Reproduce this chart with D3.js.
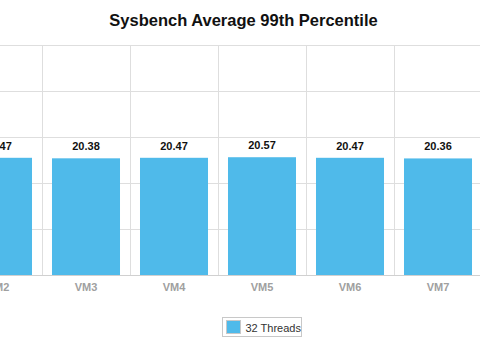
<!DOCTYPE html>
<html>
<head>
<meta charset="utf-8">
<script src="https://cdn.jsdelivr.net/npm/d3@7"></script>
<style>
  html, body { margin: 0; padding: 0; background: #fff; }
  svg { display: block; overflow: hidden; }
</style>
</head>
<body>
<svg id="chart" width="480" height="344"></svg>
<script>
// Sysbench 99th percentile latency per VM (32 threads)
const categories = ["VM2", "VM3", "VM4", "VM5", "VM6", "VM7"];
const values = [20.47, 20.38, 20.47, 20.57, 20.47, 20.36];
const seriesName = "32 Threads";
const yTicks = [0, 8, 16, 24, 32, 40];
const title = "Sysbench Average 99th Percentile";

const W = 480, H = 344;
const svg = d3.select("#chart");
const font = "'Liberation Sans', Arial, sans-serif";
const barColor = "#4fbaea";

const x = d3.scaleBand().domain(categories).range([-46, 482]).padding(0);
const y = d3.scaleLinear().domain([0, 40]).range([275.5, 45.5]);

// horizontal grid
svg.append("g").selectAll("line").data(yTicks.slice(1)).join("line")
  .attr("x1", 0).attr("x2", W)
  .attr("y1", d => y(d)).attr("y2", d => y(d))
  .attr("stroke", "#dedede").attr("stroke-width", 1);

// vertical grid at category boundaries
const bounds = categories.map(c => x(c)).concat([x(categories[categories.length - 1]) + x.bandwidth()]);
svg.append("g").selectAll("line").data(bounds).join("line")
  .attr("x1", d => Math.round(d) + 0.5).attr("x2", d => Math.round(d) + 0.5)
  .attr("y1", y(40)).attr("y2", y(0))
  .attr("stroke", "#dedede").attr("stroke-width", 1);

// bars
const inset = x.bandwidth() * 0.1136;
svg.append("g").selectAll("rect").data(values).join("rect")
  .attr("x", (d, i) => x(categories[i]) + inset)
  .attr("width", x.bandwidth() - 2 * inset)
  .attr("y", d => y(d))
  .attr("height", d => y(0) - y(d))
  .attr("fill", barColor);

// x axis line
svg.append("line")
  .attr("x1", 0).attr("x2", W)
  .attr("y1", y(0)).attr("y2", y(0))
  .attr("stroke", "#d0d0d0").attr("stroke-width", 1);

// data labels
svg.append("g").selectAll("text").data(values).join("text")
  .attr("x", (d, i) => x(categories[i]) + x.bandwidth() / 2)
  .attr("y", d => y(d) - 8)
  .attr("text-anchor", "middle")
  .attr("font-family", font).attr("font-size", 11).attr("font-weight", "bold")
  .attr("fill", "#111")
  .text(d => d.toFixed(2));

// category labels
svg.append("g").selectAll("text").data(categories).join("text")
  .attr("x", d => x(d) + x.bandwidth() / 2)
  .attr("y", 291)
  .attr("text-anchor", "middle")
  .attr("font-family", font).attr("font-size", 11).attr("font-weight", "bold")
  .attr("fill", "#a0a0a0")
  .text(d => d);

// title
svg.append("text")
  .attr("x", 243.5).attr("y", 25.5)
  .attr("text-anchor", "middle")
  .attr("font-family", font).attr("font-size", 16.5).attr("font-weight", "bold")
  .attr("fill", "#111")
  .text(title);

// legend
const lg = svg.append("g");
lg.append("rect")
  .attr("x", 222.5).attr("y", 317.5).attr("width", 79).attr("height", 19)
  .attr("fill", "#fff").attr("stroke", "#c8c8c8");
lg.append("rect")
  .attr("x", 226.5).attr("y", 320.5).attr("width", 14).attr("height", 13)
  .attr("fill", barColor).attr("stroke", "#c8c8c8");
lg.append("text")
  .attr("x", 245.5).attr("y", 331.5)
  .attr("font-family", font).attr("font-size", 11)
  .attr("fill", "#333")
  .text(seriesName);
</script>
</body>
</html>
